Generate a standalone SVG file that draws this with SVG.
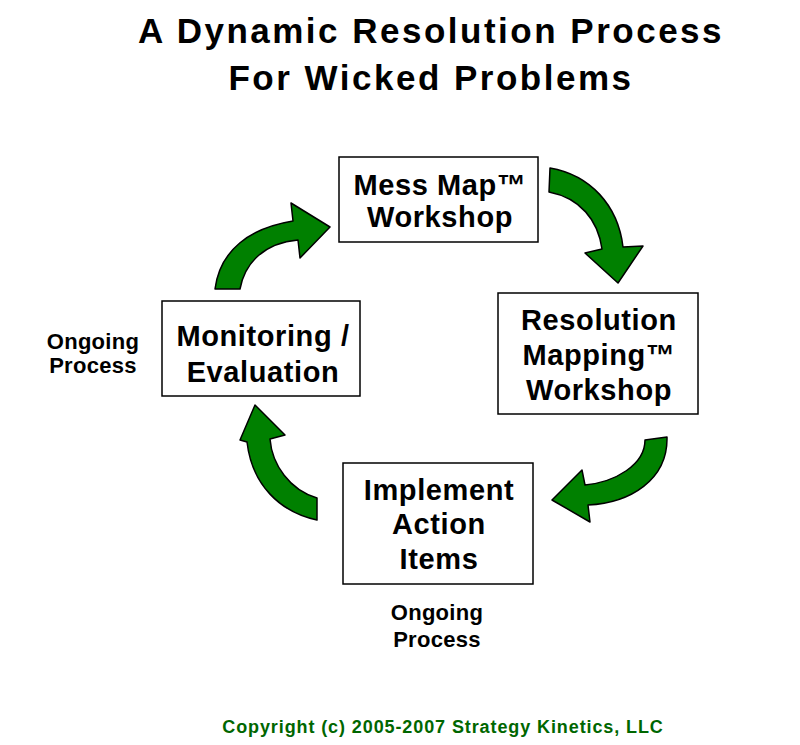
<svg xmlns="http://www.w3.org/2000/svg" width="800" height="745" viewBox="0 0 800 745">
<style>
.box{fill:#fff;stroke:#000;stroke-width:1.5}
.bt{font-family:"Liberation Sans",Arial,sans-serif;font-weight:bold;font-size:29px;letter-spacing:0.6px;text-anchor:middle;fill:#000}
.og{font-family:"Liberation Sans",Arial,sans-serif;font-weight:bold;font-size:22px;letter-spacing:0.3px;text-anchor:middle;fill:#000}
.title{font-family:"Liberation Sans",Arial,sans-serif;font-weight:bold;font-size:35px;letter-spacing:2.5px;text-anchor:middle;fill:#000}
.arr{fill:#008000;stroke:#000;stroke-width:1.5;stroke-linejoin:round}
</style>
<rect width="800" height="745" fill="#fff"/>
<text class="title" x="431" y="43">A Dynamic Resolution Process</text>
<text class="title" x="431" y="90">For Wicked Problems</text>
<g id="connectors">
<path class="arr" d="M215,289 C220,250 250,228 293,221 L291,203 L330,227 L300,258 L298,240 C265,243 245,262 240,289 Z"/>
<path class="arr" d="M550,168 C590,175 618,205 623,247 L643,246 L618,283 L585,253 L602,249 C598,220 580,198 549,192 Z"/>
<path class="arr" d="M667,437 C668,480 630,503 588,505 L590,522 L552,500 L582,470 L585,485 C615,482 645,465 645,440 Z"/>
<path class="arr" d="M317,498 C290,490 272,465 270,439 L285,435 L255,405 L240,440 L247,442 C252,485 280,512 317,520 Z"/>
</g>
<g id="mess">
<rect class="box" x="339" y="157" width="199" height="85"/>
<text class="bt" x="440" y="195">Mess Map™</text>
<text class="bt" x="440" y="227">Workshop</text>
</g>
<g id="resolution">
<rect class="box" x="498" y="293" width="200" height="121"/>
<text class="bt" x="599" y="330">Resolution</text>
<text class="bt" x="599" y="365">Mapping™</text>
<text class="bt" x="599" y="400">Workshop</text>
</g>
<g id="implement">
<rect class="box" x="343" y="463" width="190" height="121"/>
<text class="bt" x="439" y="500">Implement</text>
<text class="bt" x="439" y="534">Action</text>
<text class="bt" x="439" y="569">Items</text>
</g>
<g id="monitoring">
<rect class="box" x="162" y="301" width="198" height="95"/>
<text class="bt" x="263" y="346">Monitoring /</text>
<text class="bt" x="263" y="382">Evaluation</text>
</g>
<g id="ongoing1">
<text class="og" x="93" y="349">Ongoing</text>
<text class="og" x="93" y="373">Process</text>
</g>
<g id="ongoing2">
<text class="og" x="437" y="620">Ongoing</text>
<text class="og" x="437" y="647">Process</text>
</g>
<text x="443" y="733" font-family="Liberation Sans,Arial,sans-serif" font-weight="bold" font-size="18" fill="#006600" text-anchor="middle" letter-spacing="0.9">Copyright (c) 2005-2007 Strategy Kinetics, LLC</text>
</svg>
